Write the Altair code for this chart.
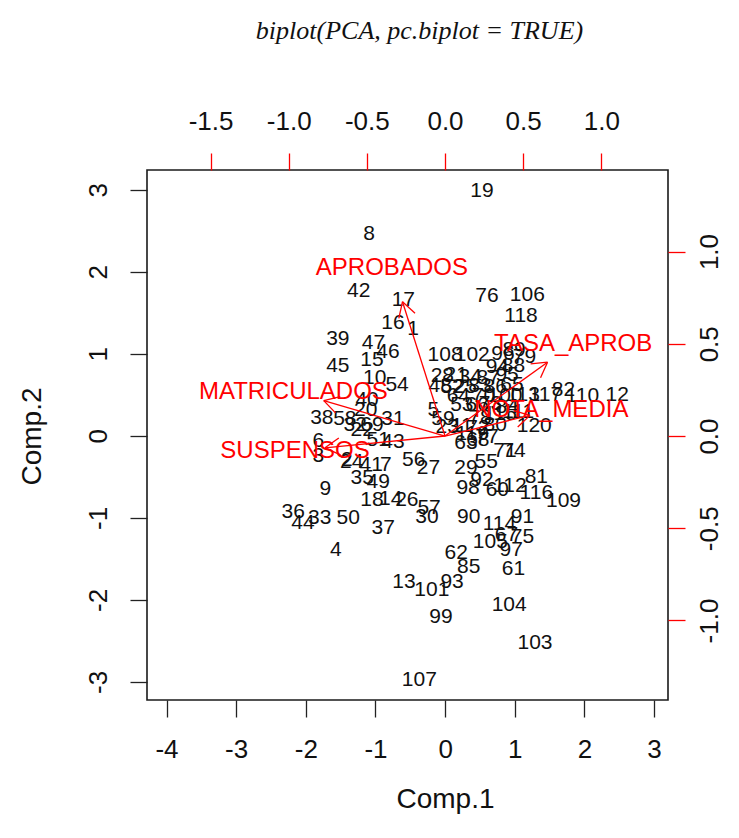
import math
import altair as alt
import pandas as pd

# PCA scores (Comp.1, Comp.2) for each observation, labelled by row number
labels = [19, 8, 42, 17, 76, 106, 118, 16, 1, 39, 47, 46, 45, 15, 10, 54, 108, 102, 12, 120,
          38, 6, 9, 36, 33, 44, 50, 37, 4, 18, 26, 35, 56, 27, 57, 30, 90, 29, 98, 81,
          116, 109, 74, 71, 101, 13, 93, 99, 62, 85, 105, 97, 61, 104, 103, 107, 75, 91, 117, 82,
          110, 31, 40, 58, 3, 2, 24, 41, 7, 49, 14, 51, 43, 20, 32, 22, 69, 96, 79, 89,
          94, 88, 28, 21, 34, 87, 95, 48, 52, 25, 83, 86, 65, 64, 60, 70, 100, 113, 53, 66,
          73, 84, 5, 59, 67, 78, 115, 111, 23, 11, 72, 80, 63, 68, 77, 119, 55, 92, 114, 112]
comp1 = [0.53, -1.09, -1.24, -0.60, 0.60, 1.18, 1.09, -0.75, -0.46, -1.54, -1.03, -0.82, -1.54, -1.05, -1.01, -0.69, 0.00, 0.39, 2.47, 1.28,
         -1.77, -1.82, -1.72, -2.18, -1.80, -2.04, -1.39, -0.89, -1.57, -1.05, -0.55, -1.19, -0.45, -0.24, -0.23, -0.26, 0.34, 0.30, 0.33, 1.31,
         1.31, 1.70, 0.99, 0.86, -0.19, -0.59, 0.10, -0.06, 0.16, 0.34, 0.65, 0.95, 0.98, 0.92, 1.29, -0.37, 1.11, 1.11, 1.44, 1.70,
         1.97, -0.75, -1.12, -1.44, -1.82, -1.41, -1.34, -1.06, -0.85, -0.96, -0.78, -0.96, -0.75, -1.14, -1.29, -1.19, -1.05, 0.83, 1.14, 0.99,
         0.75, 0.98, -0.04, 0.16, 0.36, 0.62, 0.89, -0.07, 0.10, 0.29, 0.50, 0.72, 0.96, 0.19, 0.75, 0.55, 0.86, 1.12, 0.24, 0.46,
         0.65, 0.89, -0.17, -0.03, 0.88, 0.50, 0.79, 1.05, 0.03, 0.24, 0.47, 0.72, 0.30, 0.47, 0.60, 0.39, 0.59, 0.53, 0.78, 0.93]
comp2 = [2.98, 2.46, 1.77, 1.66, 1.71, 1.72, 1.46, 1.38, 1.30, 1.18, 1.13, 1.02, 0.85, 0.93, 0.71, 0.62, 0.99, 0.98, 0.50, 0.12,
         0.22, -0.06, -0.65, -0.93, -1.00, -1.06, -1.00, -1.12, -1.39, -0.78, -0.78, -0.51, -0.30, -0.39, -0.88, -0.99, -0.99, -0.39, -0.63, -0.50,
         -0.70, -0.80, -0.18, -0.18, -1.88, -1.78, -1.78, -2.21, -1.43, -1.60, -1.29, -1.39, -1.62, -2.06, -2.52, -2.98, -1.23, -0.99, 0.50, 0.56,
         0.49, 0.20, 0.44, 0.21, -0.24, -0.29, -0.32, -0.35, -0.35, -0.56, -0.77, -0.05, -0.07, 0.32, 0.13, 0.07, 0.13, 1.00, 0.96, 1.04,
         0.84, 0.85, 0.73, 0.74, 0.72, 0.71, 0.74, 0.61, 0.60, 0.59, 0.61, 0.59, 0.62, 0.49, -0.66, 0.49, 0.48, 0.50, 0.38, 0.38,
         0.39, 0.35, 0.32, 0.20, -1.21, 0.22, 0.26, 0.29, 0.11, 0.12, 0.10, 0.13, -0.09, -0.05, -0.01, 0.02, -0.32, -0.54, -1.07, -0.61]

# Variable loadings (top / right scale)
variables = ["MATRICULADOS", "APROBADOS", "SUSPENSOS", "TASA_APROB", "NOTA_MEDIA"]
load1 = [-0.97, -0.34, -0.96, 0.82, 0.68]
load2 = [0.24, 0.91, -0.08, 0.50, 0.14]

W, H = 521, 530
X_DOM = [-4.28, 3.20]
Y_DOM = [-3.22, 3.24]
LX_DOM = [-1.907, 1.427]
LY_DOM = [-1.431, 1.442]

FONT = "Liberation Sans"
RED = "#ff0000"
INK = "#111111"

scores = pd.DataFrame({"label": [str(v) for v in labels], "comp1": comp1, "comp2": comp2})

# Arrow shafts run to 80% of each loading, like R's biplot; the heads are two
# short strokes at 30 degrees, sized in screen pixels through the scale ratios.
px_x = W / (LX_DOM[1] - LX_DOM[0])
px_y = H / (LY_DOM[1] - LY_DOM[0])
HEAD = 17.0
segs = []
for v, a, b in zip(variables, load1, load2):
    tx, ty = 0.8 * a, 0.8 * b
    segs.append({"var": v, "x": 0.0, "y": 0.0, "x2": tx, "y2": ty})
    ang = math.atan2(ty * px_y, tx * px_x)
    for s in (1, -1):
        h = ang + s * math.pi / 6
        segs.append({"var": v, "x": tx, "y": ty,
                     "x2": tx - HEAD * math.cos(h) / px_x,
                     "y2": ty - HEAD * math.sin(h) / px_y})
arrows_df = pd.DataFrame(segs)
vars_df = pd.DataFrame({"var": variables, "l1": load1, "l2": load2})

int_label = "datum.value < 0 ? '-' + format(-datum.value, 'd') : format(datum.value, 'd')"
dec_label = "datum.value < 0 ? '-' + format(-datum.value, '.1f') : format(datum.value, '.1f')"

points = alt.Chart(scores).mark_text(font=FONT, fontSize=21, color=INK).encode(
    x=alt.X("comp1:Q", scale=alt.Scale(domain=X_DOM, nice=False, zero=False),
            axis=alt.Axis(orient="bottom", values=list(range(-4, 4)), labelExpr=int_label,
                          tickSize=17, tickColor="#222222", tickWidth=1.3, domain=False, grid=False,
                          labelFont=FONT, labelFontSize=26, labelColor=INK,
                          labelBaseline="alphabetic", labelPadding=40,
                          title="Comp.1", titleFont=FONT, titleFontSize=28, titleFontWeight="normal",
                          titleColor=INK, titleX=298, titleY=107, titleAlign="center",
                          titleBaseline="alphabetic")),
    y=alt.Y("comp2:Q", scale=alt.Scale(domain=Y_DOM, nice=False, zero=False),
            axis=alt.Axis(orient="left", values=list(range(-3, 4)), labelExpr=int_label,
                          tickSize=17, tickColor="#222222", tickWidth=1.3, domain=False, grid=False,
                          labelFont=FONT, labelFontSize=26, labelColor=INK,
                          labelAngle=270, labelAlign="center", labelBaseline="alphabetic",
                          labelPadding=24,
                          title="Comp.2", titleFont=FONT, titleFontSize=28, titleFontWeight="normal",
                          titleColor=INK, titleAngle=270, titleX=-107, titleY=266,
                          titleAlign="center", titleBaseline="alphabetic")),
    text="label:N",
)

arrows = alt.Chart(arrows_df).mark_rule(color=RED, strokeWidth=1.3).encode(
    x=alt.X("x:Q", scale=alt.Scale(domain=LX_DOM, nice=False, zero=False),
            axis=alt.Axis(orient="top", values=[-1.5, -1.0, -0.5, 0.0, 0.5, 1.0], labelExpr=dec_label,
                          tickSize=17, tickColor=RED, tickWidth=1.3, domain=False, grid=False,
                          labelFont=FONT, labelFontSize=26, labelColor=INK,
                          labelBaseline="alphabetic", labelPadding=24, title=None)),
    x2="x2:Q",
    y=alt.Y("y:Q", scale=alt.Scale(domain=LY_DOM, nice=False, zero=False),
            axis=alt.Axis(orient="right", values=[-1.0, -0.5, 0.0, 0.5, 1.0], labelExpr=dec_label,
                          tickSize=17, tickColor=RED, tickWidth=1.3, domain=False, grid=False,
                          labelFont=FONT, labelFontSize=26, labelColor=INK,
                          labelAngle=270, labelAlign="center", labelBaseline="top",
                          labelPadding=11, title=None)),
    y2="y2:Q",
)

var_text = alt.Chart(vars_df).mark_text(font=FONT, fontSize=24, color=RED).encode(
    x=alt.X("l1:Q", scale=alt.Scale(domain=LX_DOM, nice=False, zero=False), axis=None),
    y=alt.Y("l2:Q", scale=alt.Scale(domain=LY_DOM, nice=False, zero=False), axis=None),
    text="var:N",
)

chart = alt.layer(points, arrows, var_text).resolve_scale(
    x="independent", y="independent"
).properties(
    width=W,
    height=H,
    autosize=alt.AutoSizeParams(type="none"),
    padding={"left": 147, "top": 170, "right": 71, "bottom": 138},
    title=alt.Title("biplot(PCA, pc.biplot = TRUE)", font="Liberation Serif", fontStyle="italic",
                    fontSize=26, fontWeight="normal", color=INK, anchor="middle",
                    dx=12, offset=64),
).configure(
    background="white"
).configure_view(
    stroke="#1a1a1a", strokeWidth=1.6
)

chart.save("out.html", embed_options={"renderer": "svg", "actions": False})
